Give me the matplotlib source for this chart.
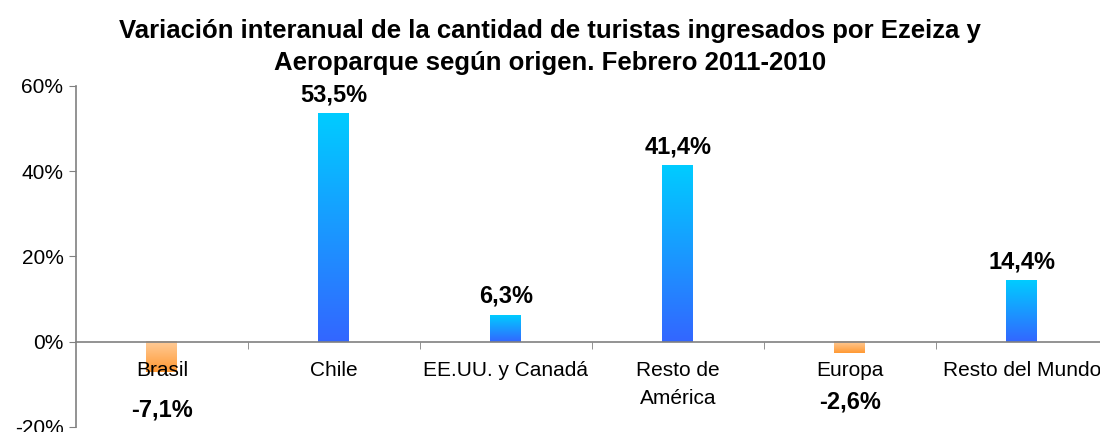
import numpy as np
import matplotlib.pyplot as plt
from matplotlib.colors import LinearSegmentedColormap
from matplotlib.ticker import FixedLocator, FuncFormatter

plt.rcParams['font.family'] = ['Liberation Sans', 'DejaVu Sans']

categorias = ['Brasil', 'Chile', 'EE.UU. y Canadá', 'Resto de\nAmérica', 'Europa', 'Resto del Mundo']
variacion = [-7.1, 53.5, 6.3, 41.4, -2.6, 14.4]
ticks_y = [-20, 0, 20, 40, 60]

# desplazamiento (px) de cada etiqueta de valor respecto del extremo de la barra
desplaz = [-38, 7, 7, 7, -49, 7]

azul = LinearSegmentedColormap.from_list('azul', ['#3366FF', '#00CCFF'])
naranja = LinearSegmentedColormap.from_list('naranja', ['#FF9933', '#FFCC99'])

fig = plt.figure(figsize=(11, 4.32), dpi=100)
ax = fig.add_axes([0.069, 0.0116, 0.938, 0.79])

x = np.arange(len(categorias))
ancho = 0.18
grad = np.linspace(0, 1, 256).reshape(-1, 1)

for xi, v, d in zip(x, variacion, desplaz):
    cmap = azul if v >= 0 else naranja
    # gradiente vertical dentro de cada barra
    ax.imshow(grad, extent=[xi - ancho / 2, xi + ancho / 2, min(0, v), max(0, v)],
              origin='lower', aspect='auto', cmap=cmap, zorder=1)
    ax.annotate(f'{v:.1f}%'.replace('.', ','), (xi, v), xytext=(0, d),
                textcoords='offset pixels', ha='center',
                va='bottom' if v >= 0 else 'center',
                fontsize=17, fontweight='bold', zorder=4)

ax.set_xlim(-0.5, len(categorias) - 0.5)
ax.set_ylim(-20, 60)
ax.set_axisbelow(False)

ax.spines['top'].set_visible(False)
ax.spines['right'].set_visible(False)
ax.spines['bottom'].set_position(('data', 0))
for s in ['left', 'bottom']:
    ax.spines[s].set_color('#808080')
    ax.spines[s].set_linewidth(1.2)
ax.spines['bottom'].set_zorder(3)

ax.set_yticks(ticks_y)
ax.yaxis.set_major_formatter(FuncFormatter(lambda v, p: f'{v:.0f}%'))
ax.tick_params(axis='y', labelsize=15, length=5, color='#808080', pad=4)

ax.set_xticks(x)
ax.set_xticklabels(categorias, fontsize=15, linespacing=1.6)
ax.tick_params(axis='x', which='major', length=0, pad=14)
ax.xaxis.set_minor_locator(FixedLocator(x[:-1] + 0.5))
ax.tick_params(axis='x', which='minor', length=5, color='#808080', direction='out')

fig.text(0.5, 0.955,
         'Variación interanual de la cantidad de turistas ingresados por Ezeiza y\n'
         'Aeroparque según origen. Febrero 2011-2010',
         ha='center', va='top', fontsize=18.5, fontweight='bold', linespacing=1.4)

fig.savefig('out.png', dpi=100)
